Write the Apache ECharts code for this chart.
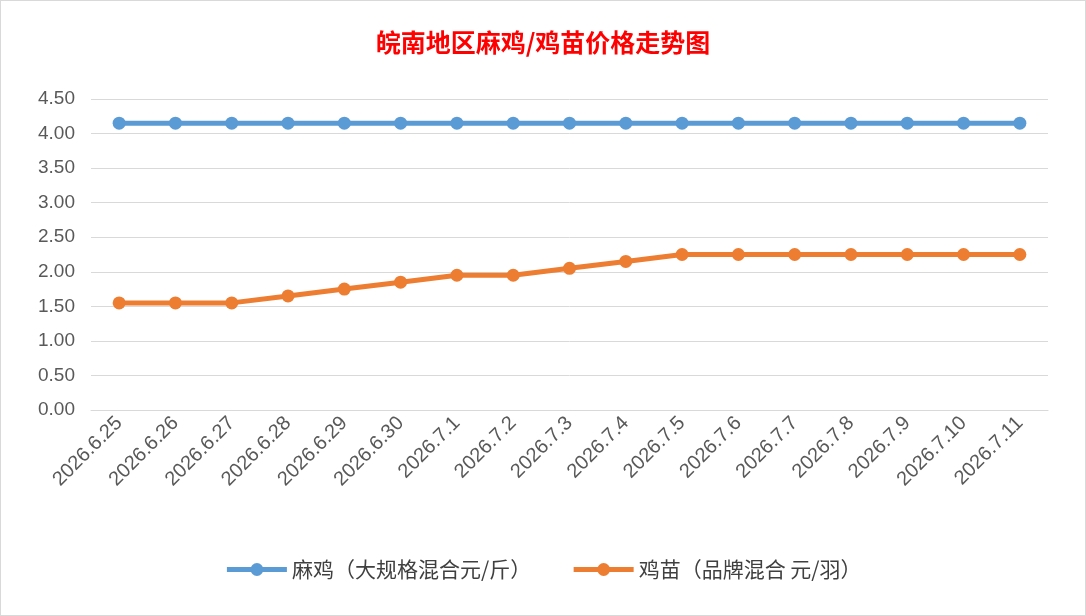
<!DOCTYPE html>
<html><head><meta charset="utf-8">
<script src="https://cdn.jsdelivr.net/npm/echarts@6/dist/echarts.min.js"></script>
<style>html,body{margin:0;padding:0;background:#fff}#c{width:1086px;height:616px;box-sizing:border-box;border:1px solid #d9d9d9}</style>
</head><body><div id="c"></div>
<script>
const dates = ['2026.6.25','2026.6.26','2026.6.27','2026.6.28','2026.6.29','2026.6.30','2026.7.1','2026.7.2','2026.7.3','2026.7.4','2026.7.5','2026.7.6','2026.7.7','2026.7.8','2026.7.9','2026.7.10','2026.7.11'];
const maji = [4.15,4.15,4.15,4.15,4.15,4.15,4.15,4.15,4.15,4.15,4.15,4.15,4.15,4.15,4.15,4.15,4.15];
const jimiao = [1.55,1.55,1.55,1.65,1.75,1.85,1.95,1.95,2.05,2.15,2.25,2.25,2.25,2.25,2.25,2.25,2.25];
const names = ['麻鸡（大规格混合元/斤）','鸡苗（品牌混合 元/羽）'];

const chart = echarts.init(document.getElementById('c'));
chart.setOption({
  animation: false,
  title: { text: '皖南地区麻鸡/鸡苗价格走势图', left: 'center', top: 24,
    textStyle: { color: '#ff0000', fontSize: 25, fontWeight: 'bold', fontFamily: 'Noto Sans CJK SC' } },
  legend: { bottom: 30, itemWidth: 60, itemHeight: 16, itemGap: 40,
    lineStyle: { width: 5 }, itemStyle: { borderWidth: 0 },
    textStyle: { fontSize: 21, color: '#404040', fontFamily: 'Noto Sans CJK SC' }, data: names },
  grid: { left: 90, right: 37, top: 98, bottom: 205 },
  xAxis: { type: 'category', data: dates, boundaryGap: true,
    axisLine: { lineStyle: { color: '#d9d9d9' } }, axisTick: { show: false },
    axisLabel: { rotate: 45, fontSize: 20, color: '#595959', fontFamily: 'Liberation Sans', margin: 10 } },
  yAxis: { type: 'value', min: 0, max: 4.5, interval: 0.5,
    axisLine: { show: false }, axisTick: { show: false },
    axisLabel: { fontSize: 19, color: '#595959', fontFamily: 'Liberation Sans', formatter: v => v.toFixed(2), margin: 16 },
    splitLine: { lineStyle: { color: '#d9d9d9' } } },
  series: [
    { name: names[0], type: 'line', data: maji, symbol: 'circle', symbolSize: 13,
      itemStyle: { color: '#5b9bd5' }, lineStyle: { width: 5, color: '#5b9bd5' } },
    { name: names[1], type: 'line', data: jimiao, symbol: 'circle', symbolSize: 13,
      itemStyle: { color: '#ed7d31' }, lineStyle: { width: 5, color: '#ed7d31' } }
  ]
});
</script></body></html>
